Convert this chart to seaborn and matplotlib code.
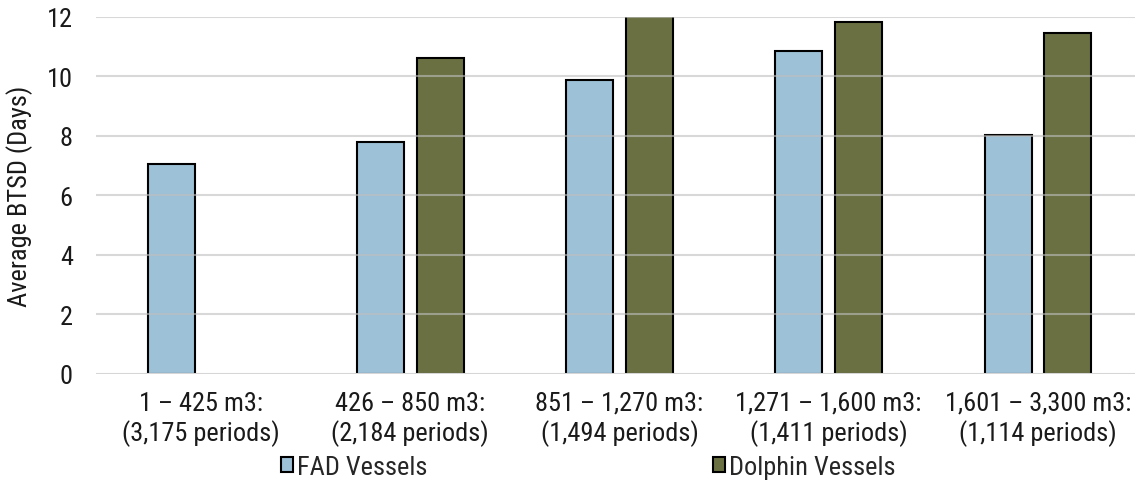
import numpy as np
import pandas as pd
import matplotlib.pyplot as plt
from matplotlib import font_manager
import seaborn as sns

categories = ['1 – 425 m3:\n(3,175 periods)', '426 – 850 m3:\n(2,184 periods)',
              '851 – 1,270 m3:\n(1,494 periods)', '1,271 – 1,600 m3:\n(1,411 periods)',
              '1,601 – 3,300 m3:\n(1,114 periods)']
fad_values = [7.06, 7.80, 9.88, 10.86, 8.02]
dolphin_values = [np.nan, 10.62, 12.3, 11.84, 11.46]
series = ['FAD Vessels', 'Dolphin Vessels']
colors = ['#9dc1d7', '#6b7043']

df = pd.DataFrame({
    'Category': categories * 2,
    'Vessel': [series[0]] * 5 + [series[1]] * 5,
    'BTSD': fad_values + dolphin_values,
})

# the original uses a narrow sans; take one if the machine has it
names = sorted({f.name for f in font_manager.fontManager.ttflist})
wanted = ['Liberation Sans Narrow', 'Arial Narrow', 'Nimbus Sans Narrow',
          'Roboto Condensed', 'Noto Sans Condensed', 'Open Sans Condensed']
narrow = [n for n in wanted if n in names]
narrow += [n for n in names if ('Narrow' in n or 'Condensed' in n) and n not in narrow]

sns.set_theme(style="white")
plt.rcParams['font.family'] = narrow[:1] + ['Liberation Sans', 'DejaVu Sans']
fs = 19

fig = plt.figure(figsize=(11.35, 4.81), dpi=100)
ax = fig.add_axes([0.085, 0.2204, 0.9216, 0.7422])

sns.barplot(data=df, x='Category', y='BTSD', hue='Vessel', palette=colors,
            saturation=1, width=0.569, gap=0.21, edgecolor='black', linewidth=1.5,
            ax=ax, legend=False)

ax.set_ylim(0, 12)
ax.set_yticks(range(0, 13, 2))
ax.set_xlim(-0.5, 4.5)
for y in range(2, 13, 2):
    ax.axhline(y, color='#bfbfbf', linewidth=1.5, alpha=0.6, zorder=5)
ax.axhline(0, color='#d6d6d6', linewidth=1.5, zorder=5)
for s in ax.spines.values():
    s.set_visible(False)
ax.tick_params(axis='y', length=0, labelsize=fs, colors='#1a1a1a', pad=17)
ax.tick_params(axis='x', length=0, labelsize=fs, colors='#1a1a1a', pad=12)
ax.set_xlabel('')
ax.set_ylabel('Average BTSD (Days)', fontsize=fs, color='#1a1a1a')
ax.yaxis.set_label_coords(-0.0606, 0.5)

for name, c, x0 in zip(series, colors, [0.2476, 0.628]):
    h = plt.Rectangle((0, 0), 1, 1, facecolor=c, edgecolor='black', linewidth=1.5)
    fig.legend([h], [name], loc='center left', bbox_to_anchor=(x0, 0.027),
               frameon=False, fontsize=fs, handlelength=0.46, handleheight=0.46,
               handletextpad=0.15, borderpad=0, borderaxespad=0)

fig.savefig('out.png', dpi=100)
